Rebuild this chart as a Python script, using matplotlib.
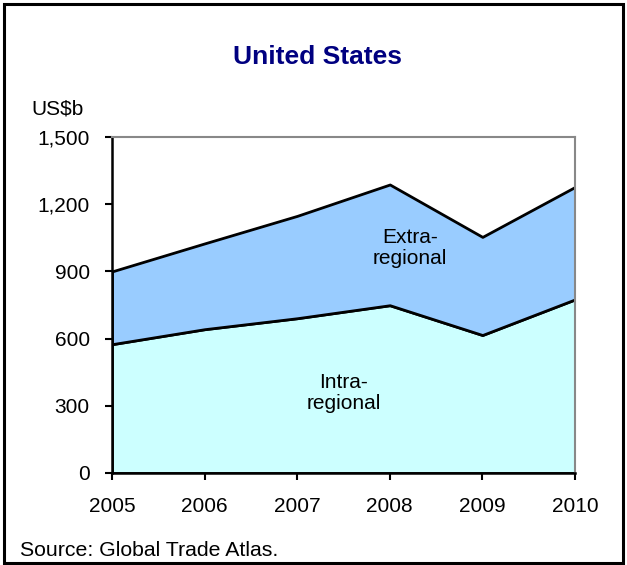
import matplotlib
matplotlib.use("Agg")
import matplotlib.pyplot as plt
from matplotlib.ticker import FuncFormatter
from matplotlib.patches import Rectangle

plt.rcParams['font.family'] = ['Liberation Sans', 'DejaVu Sans']

# data (US$b)
years = [2005, 2006, 2007, 2008, 2009, 2010]
intra = [575, 642, 691, 749, 616, 775]
total = [900, 1025, 1148, 1288, 1054, 1277]
extra = [t - i for t, i in zip(total, intra)]
yticks = [0, 300, 600, 900, 1200, 1500]

fig = plt.figure(figsize=(6.27, 5.65), dpi=100)
ax = fig.add_axes([112 / 627, 1 - 473 / 565, (575 - 112) / 627, (473 - 137) / 565])

# stacked areas
ax.stackplot(years, intra, extra, colors=['#CCFFFF', '#99CCFF'],
             edgecolor='black', linewidth=2)

ax.set_xlim(2005, 2010)
ax.set_ylim(0, 1500)
ax.set_xticks(years)
ax.set_yticks(yticks)
ax.yaxis.set_major_formatter(FuncFormatter(lambda v, p: f'{int(v):,}'))
ax.tick_params(axis='both', labelsize=15, direction='out', length=5, width=1.5, colors='black')
ax.tick_params(axis='y', pad=11)
ax.tick_params(axis='x', pad=12)

for s in ['left', 'bottom']:
    ax.spines[s].set_color('black')
    ax.spines[s].set_linewidth(1.8)
for s in ['top', 'right']:
    ax.spines[s].set_color('#888888')
    ax.spines[s].set_linewidth(1.5)

# series labels
ax.text(2008.22, 1005, 'Extra-\nregional', ha='center', va='center', fontsize=15, linespacing=1.15)
ax.text(2007.5, 358, 'Intra-\nregional', ha='center', va='center', fontsize=15, linespacing=1.15)

fig.text(317 / 627, 1 - 57 / 565, 'United States', ha='center', va='center',
         fontsize=19, fontweight='bold', color='#000080')
fig.text(31 / 627, 1 - 109 / 565, 'US$b', ha='left', va='center', fontsize=15)
fig.text(20 / 627, 1 - 551 / 565, 'Source: Global Trade Atlas.', ha='left', va='center', fontsize=15.3)

# outer frame
fig.patches.append(Rectangle((4 / 627, 2.5 / 565), 619 / 627, 559 / 565, transform=fig.transFigure,
                             fill=False, edgecolor='black', linewidth=2.2))

fig.savefig('out.png', dpi=100)
